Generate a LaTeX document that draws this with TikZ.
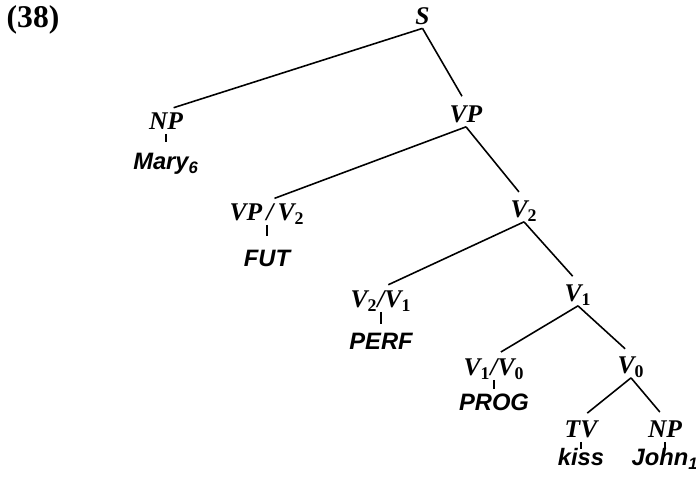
\documentclass[tikz,border=0pt]{standalone}
\usepackage{fontspec}
\setmainfont{Liberation Serif}
\newfontfamily\wordfont{Liberation Sans}
\newcommand{\lowx}[1]{\textsubscript{\upshape #1}}

\tikzset{
  cat/.style={inner sep=1pt, text height=0.35cm, text depth=0.04cm, font=\fontsize{14.5}{14.5}\selectfont\bfseries\itshape},
  word/.style={inner sep=1pt, text height=0.34cm, text depth=0.08cm, font=\wordfont\fontsize{13.5}{13.5}\selectfont\bfseries\itshape},
  branch/.style={line width=0.9pt, shorten >=0.16cm},
  tick/.style={line width=0.9pt, shorten >=#1},
  tick/.default=0.1cm
}

\begin{document}
\begin{tikzpicture}
\useasboundingbox (0,0) rectangle (13.92,9.52);
%\draw[step=0.5cm,gray,very thin] (0,0) grid (13.92,9.52); %background grid
\node[font=\fontsize{18}{18}\selectfont\bfseries] (num) at (0.66,9.12){(38)}; %example number
\node[cat] (s)    at (8.45,9.19){S}; %root
\node[cat] (np)   at (3.32,7.08){NP}; %subject
\node[word] (mary) at (3.32,6.255){Mary\textsubscript{6}};
\node[cat] (vp)   at (9.32,7.22){VP};
\node[cat] (vpv)  at (5.34,5.26){VP\,/\,V\lowx{2}}; %future
\node[word] (fut) at (5.34,4.315){FUT};
\node[cat] (vtwo) at (10.48,5.32){V\lowx{2}};
\node[cat] (vtv)  at (7.62,3.52){V\lowx{2}/V\lowx{1}}; %perfect
\node[word] (perf) at (7.62,2.655){PERF};
\node[cat] (vone) at (11.56,3.64){V\lowx{1}};
\node[cat] (vov)  at (9.88,2.16){V\lowx{1}/V\lowx{0}}; %progressive
\node[word] (prog) at (9.88,1.445){PROG};
\node[cat] (vzero) at (12.62,2.20){V\lowx{0}};
\node[cat] (tv)   at (11.62,0.92){TV}; %verb
\node[word] (kiss) at (11.62,0.345){kiss};
\node[cat] (obj)  at (13.30,0.92){NP}; %object
\node[word] (john) at (13.30,0.345){John\textsubscript{1}};
\draw[branch] (s.south) -- (np.north);
\draw[branch] (s.south) -- (vp.north);
\draw[branch] (vp.south) -- (vpv.north);
\draw[branch] (vp.south) -- (vtwo.north);
\draw[branch] (vtwo.south) -- (vtv.north);
\draw[branch] (vtwo.south) -- (vone.north);
\draw[branch] (vone.south) -- (vov.north);
\draw[branch] (vone.south) -- (vzero.north);
\draw[branch] (vzero.south) -- (tv.north);
\draw[branch] (vzero.south) -- (obj.north);
\draw[tick=0.17cm] (np.south) -- (mary.north);
\draw[tick=0.24cm] (vpv.south) -- (fut.north);
\draw[tick=0.14cm] (vtv.south) -- (perf.north);
\draw[tick=0.04cm] (vov.south) -- (prog.north);
\draw[tick=-0.06cm] (tv.south) -- (kiss.north);
\draw[tick=-0.06cm] (obj.south) -- (john.north);
\end{tikzpicture}
\end{document}
